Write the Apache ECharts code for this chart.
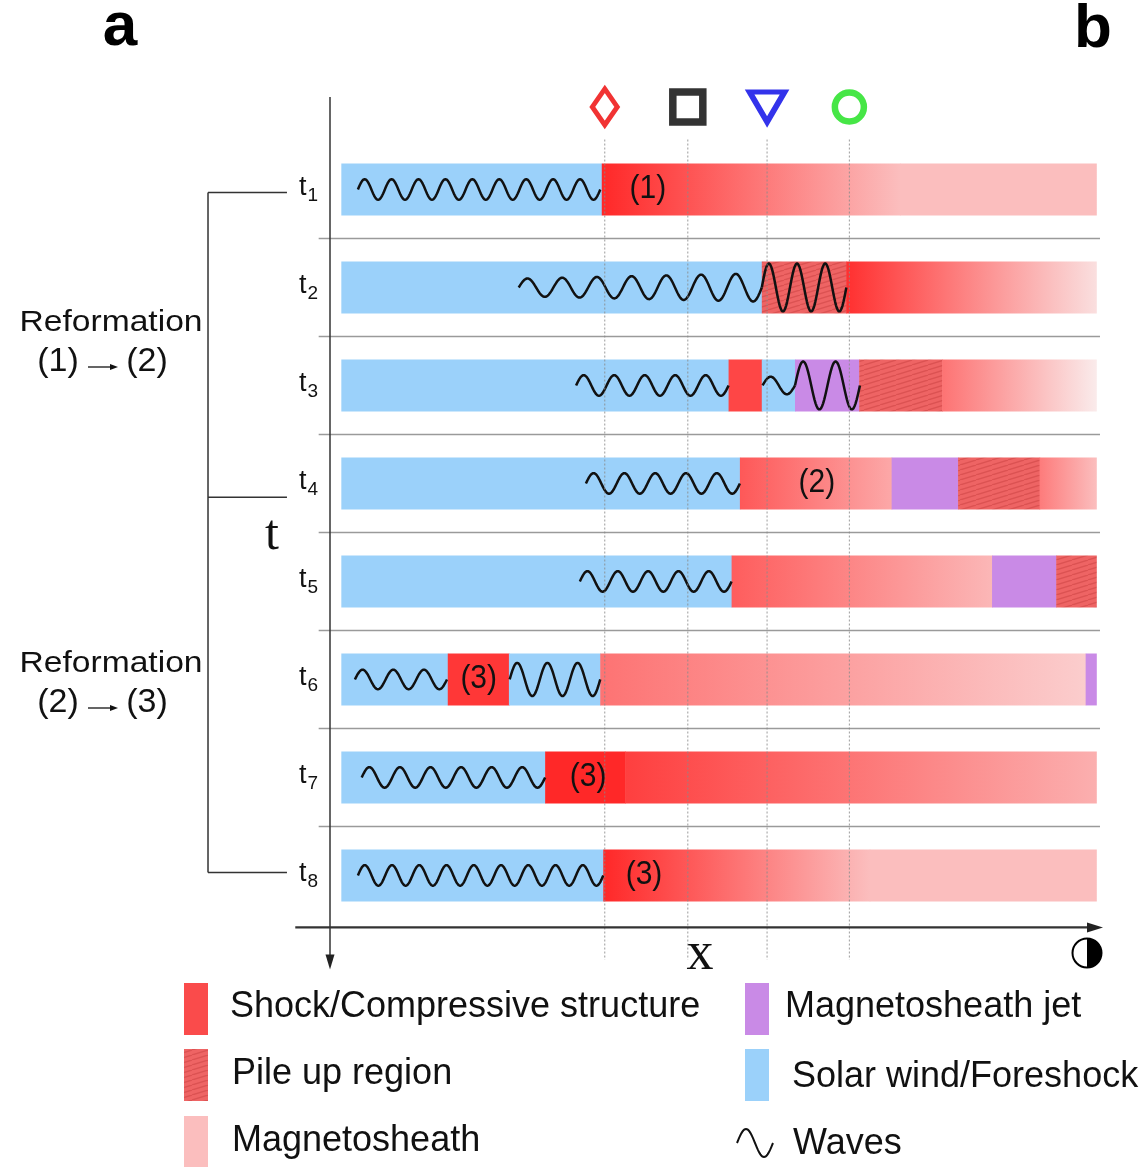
<!DOCTYPE html>
<html><head><meta charset="utf-8">
<script src="https://cdn.jsdelivr.net/npm/echarts@6/dist/echarts.min.js"></script>
<style>html,body{margin:0;padding:0;background:#fff}#c{width:1145px;height:1167px}</style>
</head><body><div id="c"></div>
<script>
// ---------------- data ----------------
const rowIndex = [1, 2, 3, 4, 5, 6, 7, 8];
const timeSubscripts = ['1', '2', '3', '4', '5', '6', '7', '8'];
const rowSeparators = [1.5, 2.5, 3.5, 4.5, 5.5, 6.5, 7.5];

// [row, start, end, region, compressionStart, compressionEnd]  (x in 0..100 units)
const segments = [
  [1, 0, 34.5, 'sw'], [1, 34.5, 74.0, 'ms', 1.0, 0.0], [1, 74.0, 100, 'ms', 0.0, 0.0],
  [2, 0, 55.7, 'sw'], [2, 55.7, 66.9, 'pile'], [2, 66.9, 100, 'ms', 0.95, -0.22],
  [3, 0, 51.3, 'sw'], [3, 51.3, 55.7, 'ms', 0.8, 0.8], [3, 55.7, 60.1, 'sw'], [3, 60.1, 68.6, 'jet'], [3, 68.6, 79.6, 'pile'], [3, 79.6, 100, 'ms', 0.5, -0.3],
  [4, 0, 52.8, 'sw'], [4, 52.8, 72.9, 'ms', 0.68, 0.15], [4, 72.9, 81.7, 'jet'], [4, 81.7, 92.5, 'pile'], [4, 92.5, 100, 'ms', 0.45, 0.0],
  [5, 0, 51.7, 'sw'], [5, 51.7, 86.2, 'ms', 0.65, 0.05], [5, 86.2, 94.7, 'jet'], [5, 94.7, 100, 'pile'],
  [6, 0, 14.1, 'sw'], [6, 14.1, 22.2, 'ms', 0.9, 0.9], [6, 22.2, 34.3, 'sw'], [6, 34.3, 98.6, 'ms', 0.5, -0.1], [6, 98.6, 100, 'jet'],
  [7, 0, 27.0, 'sw'], [7, 27.0, 37.6, 'ms', 1.0, 1.0], [7, 37.6, 100, 'ms', 0.85, 0.1],
  [8, 0, 34.7, 'sw'], [8, 34.7, 70.0, 'ms', 1.0, 0.0], [8, 70.0, 100, 'ms', 0.0, 0.0]
];

// [row, start, end, cycles, amplitudeStart, amplitudeEnd]
const waves = [
  [1, 2.2, 34.3, 9, 0.105, 0.105],
  [2, 23.5, 55.7, 7, 0.09, 0.145],
  [2, 55.7, 66.9, 3, 0.245, 0.245],
  [3, 31.1, 51.3, 5, 0.105, 0.105],
  [3, 55.8, 60.1, 1, 0.09, 0.09],
  [3, 60.1, 68.7, 2, 0.245, 0.245],
  [4, 32.4, 52.8, 5, 0.105, 0.105],
  [5, 31.6, 51.7, 5, 0.105, 0.105],
  [6, 1.8, 14.0, 3, 0.1, 0.1],
  [6, 22.3, 34.3, 3, 0.17, 0.17],
  [7, 2.7, 27.0, 6, 0.105, 0.105],
  [8, 2.2, 34.7, 9, 0.105, 0.105]
];

// [row, x, text]
const barLabels = [
  [1, 40.6, '(1)'], [4, 63.0, '(2)'], [6, 18.2, '(3)'], [7, 32.7, '(3)'], [8, 40.1, '(3)']
];

const probeX = [34.9, 45.9, 56.4, 67.3];
const probeSymbols = ['diamond', 'rect', 'triangle', 'circle'];
const probeRow = 0.158;

// reformation bracket: rows where the bracket arms are
const bracketRows = [1.03, 4.14, 7.97];
const reformationLabels = [['(1)', '(2)'], ['(2)', '(3)']];

const legendLeft = ['Shock/Compressive structure', 'Pile up region', 'Magnetosheath'];
const legendRight = ['Magnetosheath jet', 'Solar wind/Foreshock', 'Waves'];

// ---------------- styles ----------------
const SW = '#9bd1fa', JET = '#c98ae6', SHOCK = '#fa4b4b', SHEATH = '#fbbebe';
const H = 0.265;
const FONT = 'Liberation Sans, Arial, sans-serif';
function compColor(i) {
  const p = [251, 190, 190], r = [255, 40, 40];
  const c = p.map((v, k) => Math.max(0, Math.min(255, Math.round(v + (r[k] - v) * i))));
  return 'rgb(' + c.join(',') + ')';
}
function makeHatch() {
  const c = document.createElement('canvas'); c.width = 16; c.height = 5;
  const g = c.getContext('2d');
  g.fillStyle = '#ee6464'; g.fillRect(0, 0, 16, 5);
  g.strokeStyle = '#db5252'; g.lineWidth = 1.3;
  for (let k = -1; k <= 1; k++) { g.beginPath(); g.moveTo(k * 16, 5); g.lineTo(k * 16 + 16, 0); g.stroke(); }
  return c;
}
const hatch = { image: makeHatch(), repeat: 'repeat' };

const chart = echarts.init(document.getElementById('c'), null, { renderer: 'canvas' });

function segFill(s) {
  if (s[3] === 'sw') return SW;
  if (s[3] === 'jet') return JET;
  if (s[3] === 'pile') return hatch;
  return new echarts.graphic.LinearGradient(0, 0, 1, 0, [
    { offset: 0, color: compColor(s[4]) }, { offset: 1, color: compColor(s[5]) }
  ]);
}

const series = [
  { // row separators
    type: 'custom', clip: false, silent: true,
    data: rowSeparators.map(r => [r]),
    renderItem(p, api) {
      const r = rowSeparators[p.dataIndex];
      const a = api.coord([-3.0, r]), b = api.coord([100.5, r]);
      return { type: 'line', shape: { x1: a[0], y1: a[1], x2: b[0], y2: b[1] }, style: { stroke: '#9a9a9a', lineWidth: 1.5 } };
    }
  },
  { // region segments
    type: 'custom', clip: false, silent: true,
    data: segments.map(s => [s[1], s[0], s[2]]),
    renderItem(p, api) {
      const s = segments[p.dataIndex];
      const a = api.coord([s[1], s[0] - H]), b = api.coord([s[2], s[0] + H]);
      return { type: 'rect', shape: { x: a[0], y: Math.min(a[1], b[1]), width: b[0] - a[0] + 0.6, height: Math.abs(b[1] - a[1]) }, style: { fill: segFill(s) } };
    }
  },
  { // waves
    type: 'custom', clip: false, silent: true,
    data: waves.map(w => [w[1], w[0], w[2]]),
    renderItem(p, api) {
      const [row, x0, x1, cyc, a0, a1] = waves[p.dataIndex];
      const n = cyc * 30, pts = [];
      for (let k = 0; k <= n; k++) {
        const t = k / n;
        const amp = a0 + (a1 - a0) * t;
        pts.push(api.coord([x0 + (x1 - x0) * t, row - amp * Math.sin(2 * Math.PI * cyc * t)]));
      }
      return { type: 'polyline', shape: { points: pts }, style: { stroke: '#111', lineWidth: 2.5, fill: null, lineJoin: 'round' } };
    }
  },
  { // probe dotted lines
    type: 'custom', clip: false, silent: true,
    data: probeX.map(x => [x]),
    renderItem(p, api) {
      const x = probeX[p.dataIndex];
      const a = api.coord([x, 0.49]), b = api.coord([x, 8.86]);
      return { type: 'line', shape: { x1: a[0], y1: a[1], x2: b[0], y2: b[1] }, style: { stroke: '#8a8a8a', lineWidth: 1, lineDash: [2, 2], opacity: 0.85 } };
    }
  },
  { // labels inside bars
    type: 'custom', clip: false, silent: true,
    data: barLabels.map(l => [l[1], l[0]]),
    renderItem(p, api) {
      const l = barLabels[p.dataIndex];
      const c = api.coord([l[1], l[0]]);
      return { type: 'text', x: c[0], y: c[1], scaleY: 1.08, style: { text: l[2], fill: '#111', font: '30px ' + FONT, align: 'center', verticalAlign: 'middle' } };
    }
  },
  { // time labels t1..t8
    type: 'custom', clip: false, silent: true,
    data: rowIndex.map(r => [-1.5, r]),
    renderItem(p, api) {
      const r = rowIndex[p.dataIndex];
      const c = api.coord([-1.5, r]);
      return { type: 'group', children: [
        { type: 'text', x: c[0] - 31, y: c[1] - 2, style: { text: 't', fill: '#111', font: '27px ' + FONT, align: 'left', verticalAlign: 'middle' } },
        { type: 'text', x: c[0] - 22.5, y: c[1] + 6.5, style: { text: timeSubscripts[p.dataIndex], fill: '#111', font: '19px ' + FONT, align: 'left', verticalAlign: 'middle' } }
      ] };
    }
  },
  { // axes and reformation bracket
    type: 'custom', clip: false, silent: true,
    data: [[0, 0]],
    renderItem(p, api) {
      const ya = api.coord([-1.5, 0.056]), yb = api.coord([-1.5, 8.96]);
      const xa = api.coord([-6.1, 8.53]), xb = api.coord([100.9, 8.53]);
      const bx = api.coord([-17.66, 0])[0], ex = api.coord([-7.2, 0])[0];
      const ch = [
        { type: 'line', shape: { x1: ya[0], y1: ya[1], x2: yb[0], y2: yb[1] - 8 }, style: { stroke: '#333', lineWidth: 1.5 } },
        { type: 'polygon', shape: { points: [[yb[0], yb[1]], [yb[0] - 4.5, yb[1] - 15], [yb[0] + 4.5, yb[1] - 15]] }, style: { fill: '#222' } },
        { type: 'line', shape: { x1: xa[0], y1: xa[1], x2: xb[0] - 8, y2: xb[1] }, style: { stroke: '#333', lineWidth: 2.2 } },
        { type: 'polygon', shape: { points: [[xb[0], xb[1]], [xb[0] - 16, xb[1] - 5], [xb[0] - 16, xb[1] + 5]] }, style: { fill: '#222' } }
      ];
      const top = api.coord([0, bracketRows[0]])[1], bot = api.coord([0, bracketRows[bracketRows.length - 1]])[1];
      ch.push({ type: 'line', shape: { x1: bx, y1: top, x2: bx, y2: bot }, style: { stroke: '#333', lineWidth: 1.5 } });
      bracketRows.forEach(r => {
        const y = api.coord([0, r])[1];
        ch.push({ type: 'line', shape: { x1: bx, y1: y, x2: ex, y2: y }, style: { stroke: '#333', lineWidth: 1.5 } });
      });
      return { type: 'group', children: ch };
    }
  },
  { // spacecraft markers
    type: 'scatter', silent: true, z: 5,
    data: probeX.map((x, i) => {
      const sym = probeSymbols[i];
      const d = { value: [x, probeRow], symbol: sym };
      if (sym === 'diamond') Object.assign(d, { symbolSize: [25, 36], itemStyle: { color: '#fff', borderColor: '#ee0000', borderWidth: 5 } });
      if (sym === 'rect') Object.assign(d, { symbolSize: 30, itemStyle: { color: '#fff', borderColor: '#000', borderWidth: 7.5 } });
      if (sym === 'triangle') Object.assign(d, { symbolSize: [35, 30], symbolRotate: 180, itemStyle: { color: '#fff', borderColor: '#0000e6', borderWidth: 5.5 } });
      if (sym === 'circle') Object.assign(d, { symbolSize: 29, itemStyle: { color: '#fff', borderColor: '#18e018', borderWidth: 6.5 } });
      return d;
    })
  }
];

// ---------------- static annotations & legend ----------------
const graphic = [];
graphic.push({ type: 'text', x: 120, y: 28, style: { text: 'a', font: 'bold 62px ' + FONT, fill: '#000', align: 'center', verticalAlign: 'middle' } });
graphic.push({ type: 'text', x: 1093, y: 30, style: { text: 'b', font: 'bold 62px ' + FONT, fill: '#000', align: 'center', verticalAlign: 'middle' } });
[[323, 362], [664, 703]].forEach((ys, k) => {
  graphic.push({ type: 'text', x: 111, y: ys[0], scaleX: 1.12, style: { text: 'Reformation', font: '30px ' + FONT, fill: '#111', align: 'center', verticalAlign: 'middle' } });
  graphic.push({ type: 'text', x: 58, y: ys[1], style: { text: reformationLabels[k][0], font: '34px ' + FONT, fill: '#111', align: 'center', verticalAlign: 'middle' } });
  graphic.push({ type: 'text', x: 147, y: ys[1], style: { text: reformationLabels[k][1], font: '34px ' + FONT, fill: '#111', align: 'center', verticalAlign: 'middle' } });
  graphic.push({ type: 'line', shape: { x1: 88, y1: ys[1] + 5, x2: 112, y2: ys[1] + 5 }, style: { stroke: '#111', lineWidth: 1.3 } });
  graphic.push({ type: 'polygon', shape: { points: [[118, ys[1] + 5], [110, ys[1] + 2], [110, ys[1] + 8]] }, style: { fill: '#111' } });
});
graphic.push({ type: 'text', x: 272, y: 536, style: { text: 't', font: '50px Liberation Serif, serif', fill: '#111', align: 'center', verticalAlign: 'middle' } });
graphic.push({ type: 'text', x: 700, y: 955, style: { text: 'x', font: '54px Liberation Serif, serif', fill: '#111', align: 'center', verticalAlign: 'middle' } });
graphic.push({ type: 'circle', shape: { cx: 1087, cy: 953, r: 14.5 }, style: { fill: '#fff', stroke: '#000', lineWidth: 2 } });
graphic.push({ type: 'sector', shape: { cx: 1087, cy: 953, r: 14.5, r0: 0, startAngle: -Math.PI / 2, endAngle: Math.PI / 2 }, style: { fill: '#000' } });

const leftFills = [SHOCK, hatch, SHEATH];
const leftY = [983, 1049, 1116];
const leftTextY = [1007, 1074, 1141];
legendLeft.forEach((t, i) => {
  graphic.push({ type: 'rect', shape: { x: 184, y: leftY[i], width: 24, height: 52 }, style: { fill: leftFills[i] } });
  graphic.push({ type: 'text', x: i === 0 ? 230 : 232, y: leftTextY[i], style: { text: t, font: '36px ' + FONT, fill: '#111', align: 'left', verticalAlign: 'middle' } });
});
const rightFills = [JET, SW];
const rightTextX = [785, 792, 793];
const rightTextY = [1007, 1077, 1144];
legendRight.forEach((t, i) => {
  if (i < 2) graphic.push({ type: 'rect', shape: { x: 745, y: leftY[i], width: 24, height: 52 }, style: { fill: rightFills[i] } });
  graphic.push({ type: 'text', x: rightTextX[i], y: rightTextY[i], style: { text: t, font: '36px ' + FONT, fill: '#111', align: 'left', verticalAlign: 'middle' } });
});
(function () {
  const pts = [];
  for (let k = 0; k <= 40; k++) { const t = k / 40; pts.push([737 + 36 * t, 1143 - 14 * Math.sin(2 * Math.PI * t)]); }
  graphic.push({ type: 'polyline', shape: { points: pts }, style: { stroke: '#111', lineWidth: 2, fill: null } });
})();

chart.setOption({
  animation: false,
  backgroundColor: '#fff',
  grid: { left: 330, right: 42, top: 91.5, bottom: 239.6 },
  xAxis: { type: 'value', min: -1.5, max: 100.9, show: false },
  yAxis: { type: 'value', min: 0, max: 8.53, inverse: true, show: false },
  series: series,
  graphic: graphic
});
</script></body></html>
